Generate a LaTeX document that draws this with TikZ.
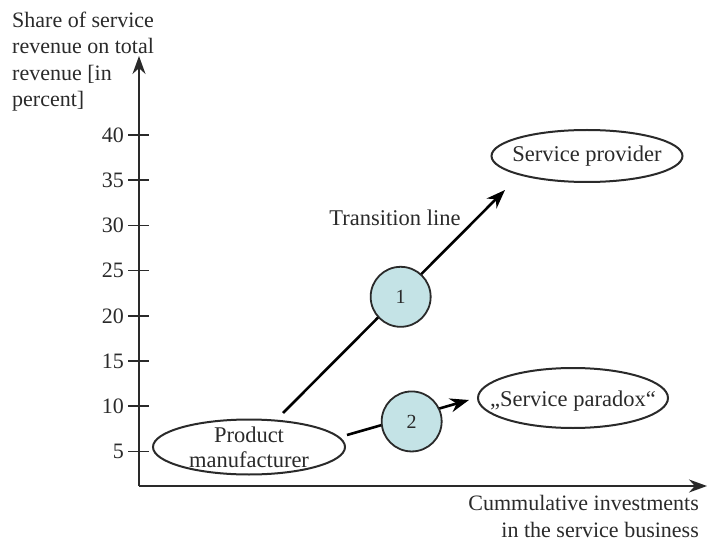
\documentclass[tikz,border=0pt]{standalone}
\usepackage{fontspec}
\setmainfont{Liberation Serif}
\usetikzlibrary{arrows.meta,shapes.geometric}

\definecolor{ink}{HTML}{2A2A2A}
\definecolor{bubble}{HTML}{C4E3E6}

\tikzset{
  lbl/.style={font=\fontsize{22}{26.5}\selectfont, text=ink, inner sep=0pt},
  axisline/.style={draw=ink, line width=2pt, -{Stealth[length=18pt,width=13pt]}},
  tickmark/.style={draw=ink, line width=1.6pt},
  oval/.style={ellipse, draw=ink, line width=2pt, inner sep=0pt},
  ovaltext/.style={inner sep=0pt, font=\fontsize{22.5}{26}\selectfont, text=ink, align=center},
  trans/.style={draw=black, line width=2.6pt, -{Stealth[length=19pt,width=14pt]}},
  stagecircle/.style={circle, draw=ink, line width=1.8pt, fill=bubble,
               minimum size=60pt, inner sep=0pt, font=\fontsize{20}{22}\selectfont, text=ink},
}

\begin{document}
\begin{tikzpicture}[x=1pt,y=-1pt]
  \useasboundingbox (0,0) rectangle (709,545);

  % axes
  \coordinate (origin) at (139,486);
  \coordinate (ytop) at (139,56);
  \coordinate (xend) at (707,486);
  \draw[axisline] (origin) -- (ytop);
  \draw[axisline] (origin) -- (xend);

  % y-axis caption
  \node[lbl, anchor=base west, align=left] (ycap) at (12,107)
    {Share of service\\revenue on total\\revenue [in\\percent]};

  % x-axis caption
  \node[lbl, font=\fontsize{22}{27}\selectfont, anchor=base east, align=right] (xcap) at (699,537)
    {Cummulative investments\\in the service business};

  % ticks and tick labels
  \foreach \v [count=\i from 0] in {40,35,30,25,20,15,10,5} {
    \pgfmathsetmacro{\yy}{135+45.2*\i}
    \draw[tickmark] (128,\yy) -- (149,\yy);
    \node[lbl, anchor=east] (tick\v) at (124,\yy) {\v};
  }

  % positions (outline and caption)
  \node[oval, minimum width=192pt, minimum height=55pt] (pm) at (249,447) {};
  \node[ovaltext] (pmtext) at (pm.center) {Product\\[-1pt]manufacturer};
  \node[oval, minimum width=191pt, minimum height=52pt] (sp) at (587,156) {};
  \node[ovaltext] (sptext) at (sp.center) {Service provider};
  \node[oval, minimum width=190pt, minimum height=60pt] (spx) at (573,398) {};
  \node[ovaltext] (spxtext) at ([yshift=-3pt]spx.center) {„Service paradox“};

  % transition paths
  \coordinate (s1) at (283,413);
  \coordinate (e1) at (505,190);
  \coordinate (s2) at (347,435);
  \coordinate (e2) at (469,400);

  \draw[trans] (s1) -- node[stagecircle, pos=0.53, yshift=-2pt] (c1) {1} (e1);
  \draw[trans] (s2) -- node[stagecircle, pos=0.53, yshift=-5pt] (c2) {2} (e2);

  \node[lbl, font=\fontsize{22.5}{26}\selectfont] (tl) at (395,218) {Transition line};
\end{tikzpicture}
\end{document}
